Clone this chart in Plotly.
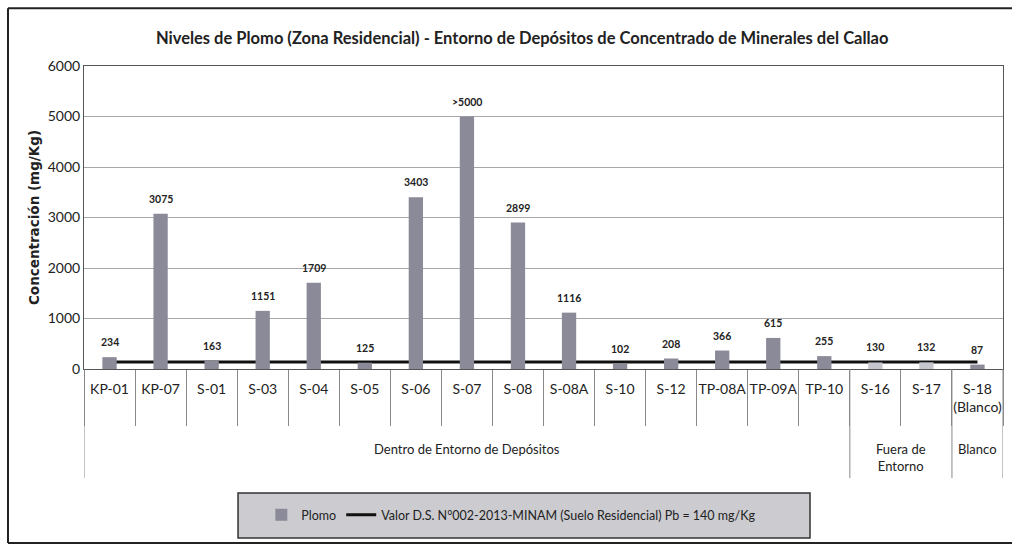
import plotly.graph_objects as go

# ---- data ----
categories = ["KP-01", "KP-07", "S-01", "S-03", "S-04", "S-05", "S-06", "S-07", "S-08",
              "S-08A", "S-10", "S-12", "TP-08A", "TP-09A", "TP-10", "S-16", "S-17", "S-18 (Blanco)"]
plomo = [234, 3075, 163, 1151, 1709, 125, 3403, 5000, 2899, 1116, 102, 208, 366, 615, 255, 130, 132, 87]
plomo_labels = ["234", "3075", "163", "1151", "1709", "125", "3403", ">5000", "2899", "1116",
                "102", "208", "366", "615", "255", "130", "132", "87"]
groups = ["Dentro de Entorno de Depósitos", "Fuera de<br>Entorno", "Blanco"]
group_sizes = [15, 2, 1]
limite = 140
y_ticks = [0, 1000, 2000, 3000, 4000, 5000, 6000]

title = "Niveles de Plomo (Zona Residencial) - Entorno de Depósitos de Concentrado de Minerales del Callao"
y_title = "Concentración (mg/Kg)"
name_bar = "Plomo"
name_line = "Valor D.S. N°002-2013-MINAM (Suelo Residencial) Pb = 140 mg/Kg"

# ---- styles ----
FONT = "Lato"
bar_colors = ["#8a8a98"] * 15 + ["#c6c6ce", "#c6c6ce"] + ["#8a8a98"]
tick_text = [c.replace(" (", "<br>(") for c in categories]

fig = go.Figure()

# threshold line on base axes (drawn under the bars)
fig.add_trace(go.Scatter(
    x=categories, y=[limite] * len(categories), mode="lines", name=name_line,
    line=dict(color="#111111", width=3), xaxis="x", yaxis="y", legendrank=2,
    hoverinfo="skip"))

# bars on overlay axes (drawn on top)
fig.add_trace(go.Bar(
    x=categories, y=plomo, name=name_bar, marker=dict(color=bar_colors, line=dict(width=0)),
    width=0.28, xaxis="x2", yaxis="y2", legendrank=1))

# data labels
for c, v, t in zip(categories, plomo, plomo_labels):
    fig.add_annotation(x=c, y=v, xref="x", yref="y", text=f"<b>{t}</b>", showarrow=False,
                       yanchor="middle", yshift=15, font=dict(family=FONT, size=10.5, color="#222"))

# group labels and dividers
start = 0
bounds = [-0.5]
for g, n in zip(groups, group_sizes):
    center = start + (n - 1) / 2
    fig.add_annotation(x=center, y=-0.231, xref="x", yref="paper", text=g, showarrow=False,
                       yanchor="top", font=dict(family=FONT, size=13, color="#222"))
    start += n
    bounds.append(start - 0.5)
for b in bounds:
    fig.add_shape(type="line", xref="x", yref="paper", x0=b, x1=b, y0=0, y1=-0.36,
                  line=dict(color="#8a8a8a", width=1))

# outer frame (left, top, bottom; right edge is outside the picture)
FX0, FX1, FY0, FY1 = -0.0827, 1.06, -0.574, 1.191
for (xa, ya, xb, yb) in [(FX0, FY0, FX0, FY1), (FX0, FY1, FX1, FY1), (FX0, FY0, FX1, FY0)]:
    fig.add_shape(type="line", xref="paper", yref="paper", x0=xa, y0=ya, x1=xb, y1=yb,
                  line=dict(color="#222", width=2), layer="below")
# legend box
fig.add_shape(type="rect", xref="paper", yref="paper", x0=0.1676, x1=0.790, y0=-0.558, y1=-0.409,
              line=dict(color="#333", width=1.5), fillcolor="#cbcbd0", layer="below")

fig.update_layout(
    width=1012, height=546,
    margin=dict(l=84, r=9, t=66, b=177, autoexpand=False),
    paper_bgcolor="white", plot_bgcolor="white",
    font=dict(family=FONT, color="#222"),
    title=dict(text=f"<b>{title}</b>", x=0.516, xanchor="center", y=1 - 38 / 546, yanchor="middle",
               font=dict(family=FONT, size=16.5, color="#222")),
    showlegend=True,
    legend=dict(orientation="h", x=0.465, xanchor="center", y=-0.482, yanchor="middle",
                bgcolor="rgba(0,0,0,0)", font=dict(family=FONT, size=12.5, color="#222"),
                itemwidth=30),
    xaxis=dict(type="category", categoryarray=categories, range=[-0.5, len(categories) - 0.5],
               showticklabels=False, ticks="outside", tickson="boundaries", ticklen=56,
               tickcolor="#8a8a8a", tickwidth=1, showgrid=False, showline=True, mirror=True,
               linecolor="#555", linewidth=1, zeroline=False),
    yaxis=dict(range=[0, 6000], tickvals=y_ticks, showgrid=True, gridcolor="#a8a8a8", gridwidth=1,
               showline=True, mirror=True, linecolor="#555", linewidth=1, zeroline=False,
               ticks="", tickfont=dict(family=FONT, size=14, color="#222"),
               title=dict(text=f"<b>{y_title}</b>",
                          font=dict(family="DejaVu Sans", size=13.5, color="#222"),
                          standoff=4)),
    xaxis2=dict(type="category", categoryarray=categories, range=[-0.5, len(categories) - 0.5],
                overlaying="x", anchor="y2", side="bottom", tickvals=categories, ticktext=tick_text,
                ticks="", ticklabelstandoff=10, showgrid=False, showline=False, zeroline=False,
                tickfont=dict(family=FONT, size=14, color="#222")),
    yaxis2=dict(range=[0, 6000], overlaying="y", anchor="x2", visible=False, showgrid=False),
    bargap=0.7,
)

fig.write_html("out.html", config={"displayModeBar": False},
               post_script="document.body.style.margin='0';")
